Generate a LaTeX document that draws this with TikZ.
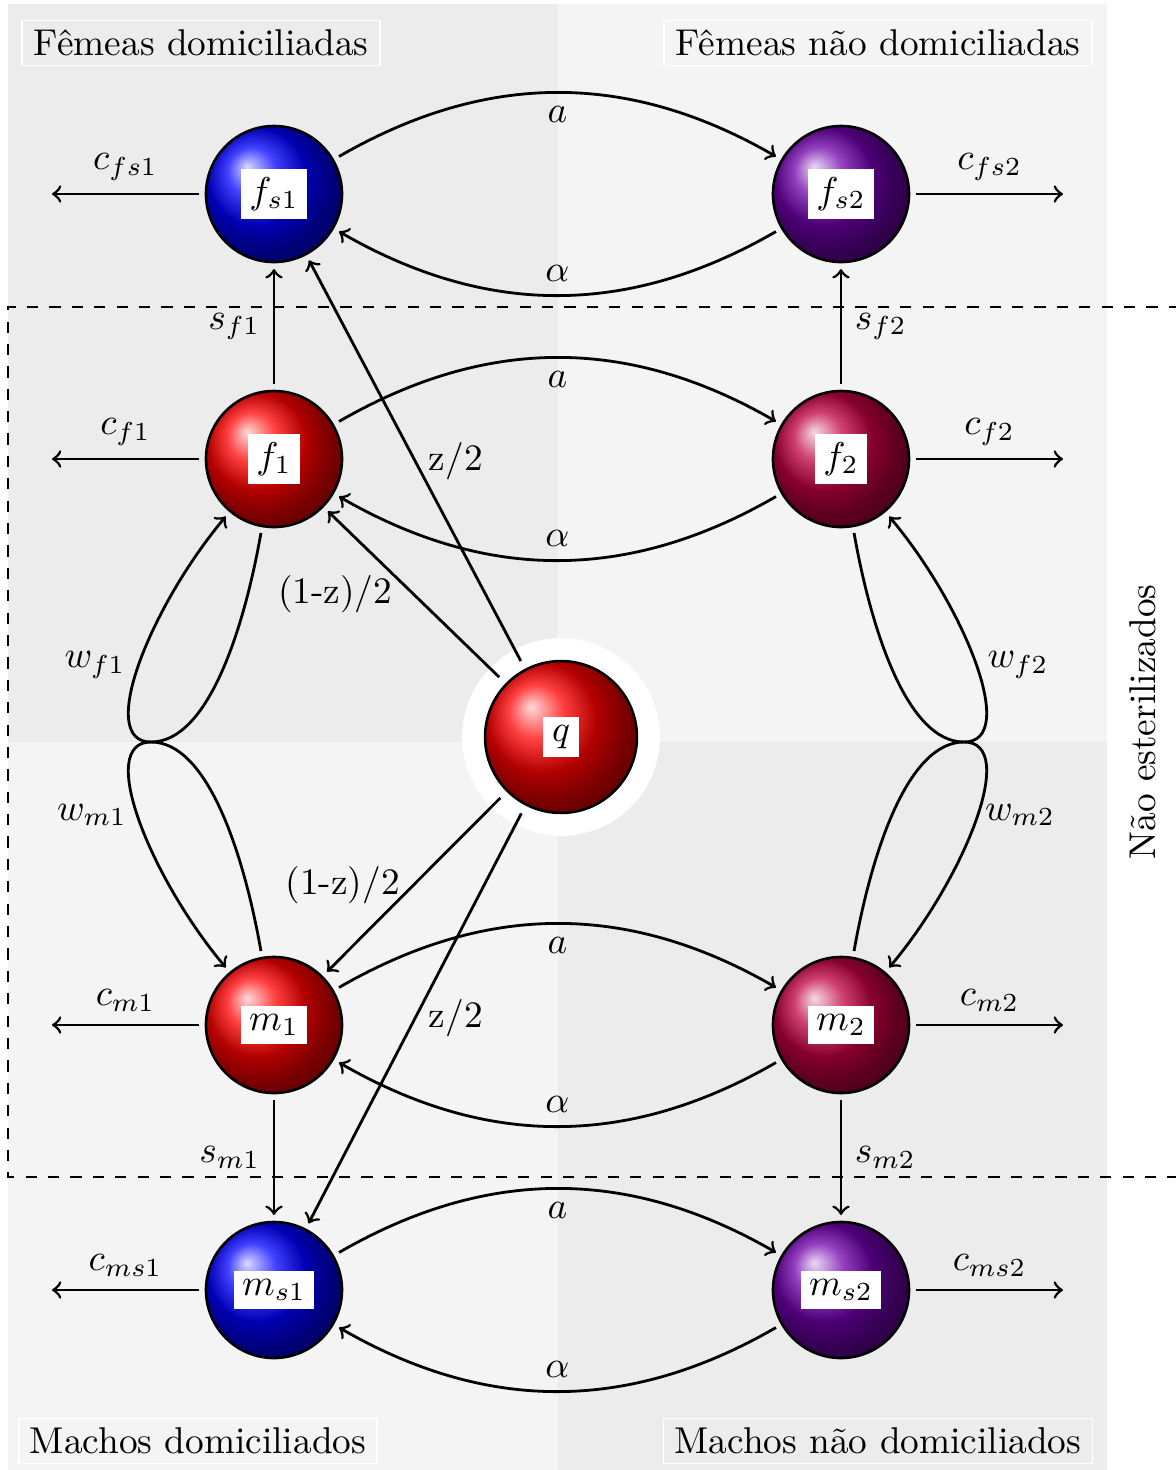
\documentclass[tikz,border=0pt]{standalone}
\definecolor{bgdark}{RGB}{236,236,236}
\definecolor{bglight}{RGB}{244,244,244}
\definecolor{violetball}{RGB}{110,0,170}
\newcommand\blab[1]{{\setlength\fboxsep{2.3pt}\colorbox{white}{$#1$}}}
\begin{document}
\begin{tikzpicture}[x=0.268pt, y=-0.268pt, >=to, line width=0.75pt,
  ballnode/.style={circle, draw=black, line width=0.7pt, minimum size=36.45pt, inner sep=0pt, outer sep=1.9pt},
  qnode/.style={ballnode, minimum size=40.7pt, outer sep=2.7pt},
  titlebox/.style={draw=white, line width=0.5pt, inner xsep=3pt, inner ysep=2.5pt},
  arr/.style={->, line width=0.75pt},
  wloopA/.style={out looseness=1.05, in looseness=0.62},
  wloopB/.style={out looseness=0.6, in looseness=1.25}]

\useasboundingbox (0,0) rectangle (1176,1470);
% background quadrants
\fill[bgdark] (8,4) rectangle (558,742);
\fill[bglight] (558,4) rectangle (1107,742);
\fill[bglight] (8,742) rectangle (558,1470);
\fill[bgdark] (558,742) rectangle (1107,1470);
\fill[white] (561,737) circle[radius=26.5pt];
\draw[dashed, line width=0.6pt] (1180,307) -- (8,307) -- (8,1177) -- (1180,1177);

% titles
\node[titlebox] (t1) at (201,43) {Fêmeas domiciliadas};
\node[titlebox] (t2) at (878,43) {Fêmeas não domiciliadas};
\node[titlebox] (t3) at (198,1441) {Machos domiciliados};
\node[titlebox] (t4) at (878,1441) {Machos não domiciliados};
\node[rotate=90] (ne) at (1143,722) {Não esterilizados};

% nodes
\node[ballnode, ball color=blue] (fs1) at (274,194) {\blab{f_{s1}}};
\node[ballnode, ball color=violetball] (fs2) at (841,194) {\blab{f_{s2}}};
\node[ballnode, ball color=red] (f1) at (274,459) {\blab{f_1}};
\node[ballnode, ball color=purple] (f2) at (841,459) {\blab{f_2}};
\node[qnode, ball color=red] (q) at (561,737) {\blab{q}};
\node[ballnode, ball color=red] (m1) at (274,1025) {\blab{m_1}};
\node[ballnode, ball color=purple] (m2) at (841,1025) {\blab{m_2}};
\node[ballnode, ball color=blue] (ms1) at (274,1290) {\blab{m_{s1}}};
\node[ballnode, ball color=violetball] (ms2) at (841,1290) {\blab{m_{s2}}};

% horizontal pairs
\draw[arr] (fs1) to[bend left=30] node[below] {$a$} (fs2);
\draw[arr] (fs2) to[bend left=30] node[above] {$\alpha$} (fs1);
\draw[arr] (f1) to[bend left=30] node[below] {$a$} (f2);
\draw[arr] (f2) to[bend left=30] node[above] {$\alpha$} (f1);
\draw[arr] (m1) to[bend left=30] node[below] {$a$} (m2);
\draw[arr] (m2) to[bend left=30] node[above] {$\alpha$} (m1);
\draw[arr] (ms1) to[bend left=30] node[below] {$a$} (ms2);
\draw[arr] (ms2) to[bend left=30] node[above] {$\alpha$} (ms1);

% outflows
\coordinate (cfs1) at (52,194);
\coordinate (cfs2) at (1063,194);
\coordinate (cf1) at (52,459);
\coordinate (cf2) at (1063,459);
\coordinate (cm1) at (52,1025);
\coordinate (cm2) at (1063,1025);
\coordinate (cms1) at (52,1290);
\coordinate (cms2) at (1063,1290);
\draw[arr] (fs1) -- node[above] {$c_{fs1}$} (cfs1);
\draw[arr] (fs2) -- node[above] {$c_{fs2}$} (cfs2);
\draw[arr] (f1) -- node[above] {$c_{f1}$} (cf1);
\draw[arr] (f2) -- node[above] {$c_{f2}$} (cf2);
\draw[arr] (m1) -- node[above] {$c_{m1}$} (cm1);
\draw[arr] (m2) -- node[above] {$c_{m2}$} (cm2);
\draw[arr] (ms1) -- node[above] {$c_{ms1}$} (cms1);
\draw[arr] (ms2) -- node[above] {$c_{ms2}$} (cms2);

% sterilization
\draw[arr] (f1) -- node[left] {$s_{f1}$} (fs1);
\draw[arr] (f2) -- node[right] {$s_{f2}$} (fs2);
\draw[arr] (m1) -- node[left] {$s_{m1}$} (ms1);
\draw[arr] (m2) -- node[right] {$s_{m2}$} (ms2);

% from q
\draw[arr] (q) -- node[right] {z/2} (fs1);
\draw[arr] (q) -- node[left=2pt] {(1-z)/2} (f1);
\draw[arr] (q) -- node[left] {(1-z)/2} (m1);
\draw[arr] (q) -- node[right] {z/2} (ms1);

% w loops
\coordinate (J1) at (151,742);
\coordinate (J2) at (964,742);
\draw[arr] (f1) to[out=-100, in=0, wloopA] (J1) to[out=180, in=130, wloopB] (m1);
\draw[arr] (m1) to[out=100, in=0, wloopA] (J1) to[out=180, in=-130, wloopB] (f1);
\draw[arr] (f2) to[out=-80, in=180, wloopA] (J2) to[out=0, in=50, wloopB] (m2);
\draw[arr] (m2) to[out=80, in=180, wloopA] (J2) to[out=0, in=-50, wloopB] (f2);
\node (wf1) at (95,665) {$w_{f1}$};
\node (wm1) at (92,815) {$w_{m1}$};
\node (wf2) at (1018,665) {$w_{f2}$};
\node (wm2) at (1020,815) {$w_{m2}$};
\end{tikzpicture}
\end{document}
